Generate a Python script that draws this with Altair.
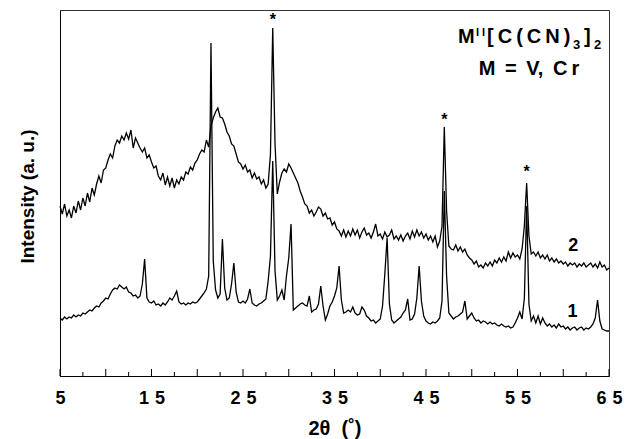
import altair as alt
import pandas as pd

# ---------------- data ----------------
THETA_START = 5.0
THETA_STEP = 0.25

# curve 2 (upper trace), one value every 0.25 deg from 5 to 65
trace2 = [
    170, 162, 172, 160,   # 5
    166, 158, 170, 163,   # 6
    175, 166, 178, 170,   # 7
    183, 174, 188, 181,   # 8
    192, 200, 193, 206,   # 9
    208, 216, 222, 218,   # 10
    230, 236, 233, 240,   # 11
    236, 243, 237, 246,   # 12
    228, 238, 233, 228,   # 13
    224, 228, 218, 221,   # 14
    214, 208, 210, 200,   # 15
    196, 203, 191, 199,   # 16
    190, 198, 188, 196,   # 17
    192, 199, 196, 204,   # 18
    202, 209, 206, 213,   # 19
    216, 222, 226, 224,   # 20
    236, 229, 250, 258,   # 21
    264, 268, 259, 258,   # 22
    252, 244, 240, 232,   # 23
    230, 222, 214, 212,   # 24
    207, 211, 204, 206,   # 25
    198, 203, 197, 199,   # 26
    192, 196, 188, 192,   # 27
    222, 348, 232, 182,   # 28
    194, 203, 207, 204,   # 29
    212, 208, 203, 198,   # 30
    193, 185, 179, 172,   # 31
    170, 163, 166, 160,   # 32
    164, 169, 167, 160,   # 33
    163, 157, 158, 151,   # 34
    154, 147, 145, 140,   # 35
    146, 139, 145, 140,   # 36
    147, 141, 146, 138,   # 37
    144, 148, 141, 143,   # 38
    138, 144, 152, 140,   # 39
    142, 137, 144, 139,   # 40
    141, 146, 137, 140,   # 41
    136, 141, 135, 140,   # 42
    143, 137, 145, 139,   # 43
    146, 140, 144, 138,   # 44
    142, 136, 140, 134,   # 45
    140, 129, 135, 150,   # 46
    249, 165, 130, 127,   # 47
    126, 131, 125, 129,   # 48
    124, 127, 121, 118,   # 49
    116, 112, 115, 109,   # 50
    111, 108, 113, 110,   # 51
    114, 110, 116, 113,   # 52
    118, 114, 119, 115,   # 53
    124, 118, 123, 119,   # 54
    121, 117, 127, 150,   # 55
    193, 140, 122, 124,   # 56
    120, 124, 118, 121,   # 57
    117, 121, 115, 118,   # 58
    114, 117, 113, 115,   # 59
    112, 114, 110, 113,   # 60
    111, 113, 109, 112,   # 61
    110, 113, 109, 111,   # 62
    113, 109, 112, 108,   # 63
    114, 109, 111, 106,   # 64
    108,                  # 65
]

# curve 1 (lower trace)
trace1 = [
    58, 56, 59, 57,       # 5
    59, 58, 61, 59,       # 6
    61, 60, 63, 62,       # 7
    64, 66, 65, 68,       # 8
    70, 69, 73, 75,       # 9
    78, 77, 82, 86,       # 10
    88, 87, 91, 89,       # 11
    87, 89, 84, 83,       # 12
    80, 81, 78, 80,       # 13
    92, 117, 78, 74,      # 14
    73, 75, 71, 72,       # 15
    70, 73, 71, 74,       # 16
    78, 76, 80, 85,       # 17
    74, 72, 73, 71,       # 18
    73, 72, 74, 73,       # 19
    74, 77, 80, 83,       # 20
    87, 100, 333, 115,    # 21
    86, 78, 82, 137,      # 22
    88, 76, 78, 92,       # 23
    113, 84, 74, 73,      # 24
    75, 73, 77, 87,       # 25
    73, 71, 70, 72,       # 26
    73, 75, 77, 95,       # 27
    120, 215, 105, 76,    # 28
    80, 86, 76, 100,      # 29
    118, 152, 66, 68,     # 30
    70, 72, 73, 71,       # 31
    70, 80, 64, 66,       # 32
    67, 72, 90, 70,       # 33
    56, 62, 70, 74,       # 34
    80, 88, 110, 76,      # 35
    63, 64, 66, 64,       # 36
    69, 63, 61, 62,       # 37
    69, 66, 60, 58,       # 38
    55, 56, 53, 55,       # 39
    57, 70, 102, 138,     # 40
    72, 56, 53, 55,       # 41
    57, 59, 63, 66,       # 42
    77, 56, 57, 62,       # 43
    78, 110, 75, 60,      # 44
    55, 53, 52, 54,       # 45
    53, 55, 58, 75,       # 46
    185, 100, 63, 60,     # 47
    57, 59, 60, 62,       # 48
    64, 75, 57, 60,       # 49
    63, 58, 55, 56,       # 50
    53, 55, 54, 52,       # 51
    54, 52, 53, 51,       # 52
    50, 52, 50, 49,       # 53
    50, 48, 49, 53,       # 54
    58, 64, 57, 78,       # 55
    170, 72, 55, 60,      # 56
    53, 60, 52, 58,       # 57
    53, 50, 52, 49,       # 58
    51, 48, 52, 49,       # 59
    50, 47, 49, 46,       # 60
    48, 49, 46, 48,       # 61
    49, 46, 48, 47,       # 62
    49, 52, 58, 76,       # 63
    55, 47, 46, 45,       # 64
    45,                   # 65
]

x_tick_values = [5, 15, 25, 35, 45, 55, 65]
x_tick_labels = ["5", "1\u20045", "2\u20045", "3\u20045", "4\u20045", "5\u20045", "6\u20045"]
major_ticks = [5, 10, 15, 20, 25, 30, 35, 40, 45, 50, 55, 60, 65]
minor_ticks = [7.5, 12.5, 17.5, 22.5, 27.5, 32.5, 37.5, 42.5, 47.5, 52.5, 57.5, 62.5]

star_theta = [28.25, 47.0, 56.0]
star_I = [351, 251, 199]

curve_text = ["2", "1"]
curve_theta = [61.1, 61.0]
curve_I = [125, 59]

# formula label pieces: M^II[C(CN)3]2
formula_text = ["M", "I\u00a0I", "[\u2009C\u2009(\u2009C\u2009N\u2009)", "3", "]", "2"]
formula_theta = [48.50, 50.46, 51.67, 61.07, 62.27, 63.36]
formula_I = [333, 340, 333, 327, 333, 327]
formula_size = [20, 11, 20, 13, 20, 13]

line2_text = ["M\u2009 =\u2009 V,\u2009 C\u2009r"]
line2_theta = [56.26]
line2_I = [301]

FONT = "Liberation Sans"

# ---------------- tables ----------------
theta = [THETA_START + THETA_STEP * i for i in range(len(trace1))]
df_lines = pd.concat([
    pd.DataFrame({"theta": theta, "I": trace2, "series": "2"}),
    pd.DataFrame({"theta": theta, "I": trace1, "series": "1"}),
])
df_major = pd.DataFrame({"theta": major_ticks})
df_minor = pd.DataFrame({"theta": minor_ticks})
df_star = pd.DataFrame({"theta": star_theta, "I": star_I})
df_curve = pd.DataFrame({"theta": curve_theta, "I": curve_I, "t": curve_text})
df_formula = pd.DataFrame({"theta": formula_theta, "I": formula_I, "t": formula_text, "s": formula_size})
df_line2 = pd.DataFrame({"theta": line2_theta, "I": line2_I, "t": line2_text})

label_expr = " : ".join(
    f"datum.value == {v} ? '{l}'" for v, l in zip(x_tick_values, x_tick_labels)
) + " : ''"

xscale = alt.Scale(domain=[5, 65], nice=False, zero=False)
yscale = alt.Scale(domain=[0, 366], nice=False, zero=False)

x_axis = alt.Axis(
    values=x_tick_values, labelExpr=label_expr, ticks=False, tickSize=0, grid=False,
    domainColor="black", domainWidth=1,
    labelFont=FONT, labelFontSize=18, labelFontWeight="bold", labelColor="black",
    labelPadding=13, labelFlush=False, labelOverlap=False,
    title="2θ\u00a0 (˚)", titleFont=FONT, titleFontSize=20, titleFontWeight="bold",
    titleColor="black", titleBaseline="alphabetic", titleY=58,
)
y_axis = alt.Axis(
    labels=False, ticks=False, grid=False, domainColor="black", domainWidth=1,
    title="Intensity (a. u.)", titleFont=FONT, titleFontSize=19, titleFontWeight="bold",
    titleColor="black", titleAngle=270, titleX=-27, titleY=186,
    titleBaseline="alphabetic", titleAlign="center",
)

lines = alt.Chart(df_lines).mark_line(color="black", strokeWidth=1.3).encode(
    x=alt.X("theta:Q", scale=xscale, axis=x_axis),
    y=alt.Y("I:Q", scale=yscale, axis=y_axis),
    detail="series:N",
)

ticks_major = alt.Chart(df_major).mark_rule(color="black", strokeWidth=1).encode(
    x=alt.X("theta:Q", scale=xscale),
    y=alt.value(366), y2=alt.value(359),
)
ticks_minor = alt.Chart(df_minor).mark_rule(color="black", strokeWidth=1).encode(
    x=alt.X("theta:Q", scale=xscale),
    y=alt.value(366), y2=alt.value(362),
)

stars = alt.Chart(df_star).mark_text(
    text="*", font=FONT, fontSize=16, fontWeight="bold", color="black", baseline="alphabetic"
).encode(x=alt.X("theta:Q", scale=xscale), y=alt.Y("I:Q", scale=yscale))

curve_labels = alt.Chart(df_curve).mark_text(
    font=FONT, fontSize=18, fontWeight="bold", color="black", baseline="alphabetic"
).encode(x=alt.X("theta:Q", scale=xscale), y=alt.Y("I:Q", scale=yscale), text="t:N")

formula = alt.Chart(df_formula).mark_text(
    font=FONT, fontWeight="bold", color="black", baseline="alphabetic", align="left"
).encode(
    x=alt.X("theta:Q", scale=xscale), y=alt.Y("I:Q", scale=yscale), text="t:N",
    size=alt.Size("s:Q", scale=None),
)

line2 = alt.Chart(df_line2).mark_text(
    font=FONT, fontSize=20, fontWeight="bold", color="black", baseline="alphabetic", align="center"
).encode(x=alt.X("theta:Q", scale=xscale), y=alt.Y("I:Q", scale=yscale), text="t:N")

chart = alt.layer(
    lines, ticks_major, ticks_minor, stars, curve_labels, formula, line2
).properties(
    width=549, height=366,
    padding={"left": 60, "top": 10, "right": 19, "bottom": 63},
    autosize=alt.AutoSizeParams(type="none"),
    background="white",
).configure_view(stroke="#333333", strokeWidth=1)

chart.save("out.html", embed_options={"renderer": "svg", "actions": False})
